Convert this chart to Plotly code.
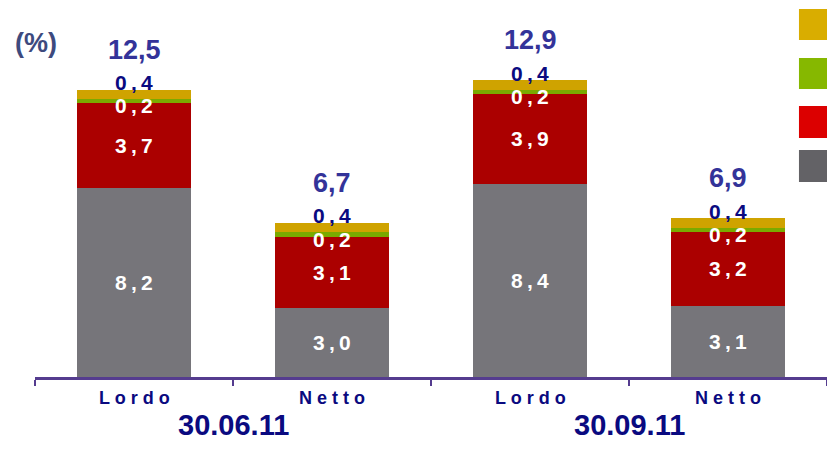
import plotly.graph_objects as go

categories = ["Lordo", "Netto", "Lordo", "Netto"]
periods = ["30.06.11", "30.09.11"]
gray_vals = [8.2, 3.0, 8.4, 3.1]
red_vals = [3.7, 3.1, 3.9, 3.2]
green_vals = [0.2, 0.2, 0.2, 0.2]
yellow_vals = [0.4, 0.4, 0.4, 0.4]
totals = [12.5, 6.7, 12.9, 6.9]

FONT = "Liberation Sans, Arial, sans-serif"
NAVY = "#0a0a80"
TOTAL_BLUE = "#333399"
AXIS = "#553c8f"


def fmt(v, sep="\u2009"):
    # comma decimals, letter-spaced like the original slide
    return f"{v:.1f}".replace(".", sep + "," + sep)


x = list(range(len(categories)))
series = [
    (gray_vals, "#76757a"),
    (red_vals, "#ab0000"),
    (green_vals, "#7aaa00"),
    (yellow_vals, "#cfa300"),
]

fig = go.Figure()
for vals, col in series:
    fig.add_trace(go.Bar(
        x=x, y=vals, width=0.576,
        marker=dict(color=col, line=dict(width=0)),
        hoverinfo="skip", showlegend=False,
    ))

ann = []
for i in x:
    g, r, gr, ye = gray_vals[i], red_vals[i], green_vals[i], yellow_vals[i]
    white = dict(color="white", size=21, family=FONT)
    ann.append(dict(x=i, y=g / 2, text=f"<b>{fmt(g)}</b>", font=white, showarrow=False))
    ann.append(dict(x=i, y=g + r / 2, text=f"<b>{fmt(r)}</b>", font=white, showarrow=False))
    ann.append(dict(x=i, y=g + r + gr, yshift=-7, text=f"<b>{fmt(gr)}</b>",
                    font=white, showarrow=False))
    ann.append(dict(x=i, y=totals[i], yshift=7, text=f"<b>{fmt(ye)}</b>",
                    font=dict(color=NAVY, size=21, family=FONT), showarrow=False))
    ann.append(dict(x=i, y=totals[i], yshift=40, text=f"<b>{fmt(totals[i], '')}</b>",
                    font=dict(color=TOTAL_BLUE, size=27, family=FONT), showarrow=False))
    ann.append(dict(x=i, y=0, yref="paper", yshift=-33, text="<b>" + " ".join(categories[i]) + "</b>",
                    font=dict(color=NAVY, size=18, family=FONT), showarrow=False))

for k, p in enumerate(periods):
    ann.append(dict(x=2 * k + 0.5, y=0, yref="paper", yshift=-66, text=f"<b>{p}</b>",
                    font=dict(color=NAVY, size=29, family=FONT), showarrow=False))

ann.append(dict(x=0.0013, y=0.955, xref="paper", yref="paper", xanchor="center",
                text="<b>(%)</b>", font=dict(color="#3d4a7e", size=27, family=FONT),
                showarrow=False))

# legend swatches (no text in the original)
swatches = [
    ("#d9ad00", 0.9158, 1.0),
    ("#86b800", 0.7826, 0.8668),
    ("#dc0000", 0.6495, 0.7364),
    ("#636266", 0.5299, 0.6168),
]
shapes = [dict(type="rect", xref="paper", yref="paper", x0=0.9646, x1=1.0, y0=y0, y1=y1,
               fillcolor=c, line=dict(width=0), layer="above")
          for c, y0, y1 in swatches]

fig.update_layout(
    barmode="stack",
    width=827, height=456,
    margin=dict(l=35, r=0, t=9, b=79),
    paper_bgcolor="white", plot_bgcolor="white",
    annotations=ann, shapes=shapes,
    xaxis=dict(range=[-0.5, 3.5], tickvals=[-0.5, 0.5, 1.5, 2.5, 3.5],
               showticklabels=False, ticks="outside", ticklen=6, tickwidth=2,
               tickcolor=AXIS, showline=True, linecolor=AXIS, linewidth=3,
               showgrid=False, zeroline=False, fixedrange=True),
    yaxis=dict(range=[0, 16], visible=False, fixedrange=True),
)

fig.write_html("out.html", config={"displayModeBar": False},
               post_script="document.body.style.margin='0';document.body.style.overflow='hidden';")
